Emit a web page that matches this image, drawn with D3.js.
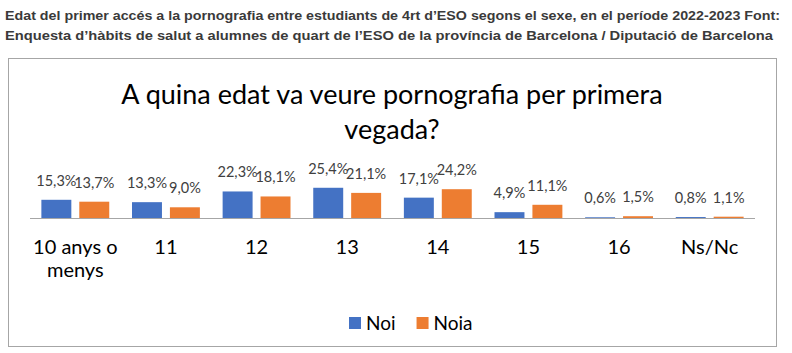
<!DOCTYPE html>
<html>
<head>
<meta charset="utf-8">
<script src="https://cdn.jsdelivr.net/npm/d3@7"></script>
<style>
  body { margin: 0; background: #fff; }
  svg { display: block; }
</style>
</head>
<body>
<div class="chart_area"></div>
<script>
var categories = ["10 anys o menys", "11", "12", "13", "14", "15", "16", "Ns/Nc"];
var seriesNames = ["Noi", "Noia"];
var noiValues = [15.3, 13.3, 22.3, 25.4, 17.1, 4.9, 0.6, 0.8];
var noiaValues = [13.7, 9.0, 18.1, 21.1, 24.2, 11.1, 1.5, 1.1];
var headerLines = [
  "Edat del primer accés a la pornografia entre estudiants de 4rt d’ESO segons el sexe, en el període 2022-2023 Font:",
  "Enquesta d’hàbits de salut a alumnes de quart de l’ESO de la província de Barcelona / Diputació de Barcelona"
];
var titleLines = ["A quina edat va veure pornografia per primera", "vegada?"];

var colors = {Noi: "#4472C4", Noia: "#ED7D31"};

var width = 792, height = 353;
var svg = d3.select(".chart_area").append("svg")
    .attr("width", width)
    .attr("height", height);

// header above the chart frame
var header = svg.append("g");
headerLines.forEach(function(t, i) {
  var tx = header.append("text")
    .attr("x", 5)
    .attr("y", 20 + i * 20)
    .attr("font-family", "Liberation Sans, Arial, sans-serif")
    .attr("font-weight", "bold")
    .attr("font-size", 13.5)
    .attr("fill", "#3a3a3a")
    .text(t);
  var target = i == 0 ? 775 : 768;
  tx.attr("textLength", target).attr("lengthAdjust", "spacingAndGlyphs");
});

// chart frame
svg.append("rect")
  .attr("x", 8.5).attr("y", 58.5)
  .attr("width", 768).attr("height", 288)
  .attr("fill", "#fff")
  .attr("stroke", "#a6a6a6")
  .attr("stroke-width", 1);

var font = "Lato, sans-serif";

titleLines.forEach(function(t, i) {
  svg.append("text")
    .attr("x", 392)
    .attr("y", 104 + i * 35)
    .attr("text-anchor", "middle")
    .attr("font-family", font)
    .attr("font-size", 27)
    .attr("fill", "#000")
    .text(t);
});

var baseline = 218;
var x = d3.scaleBand()
  .domain(categories)
  .range([30, 755]);
var xSub = d3.scaleBand()
  .domain(seriesNames)
  .range([0, x.bandwidth()])
  .paddingInner(0.21)
  .paddingOuter(0.3);
var y = d3.scaleLinear()
  .domain([0, 30])
  .range([baseline, baseline - 35.7]);

var rows = categories.map(function(c, i) {
  return {cat: c, values: [{s: "Noi", v: noiValues[i]}, {s: "Noia", v: noiaValues[i]}]};
});

var groups = svg.selectAll(".grp")
  .data(rows)
  .enter().append("g")
  .attr("class", "grp")
  .attr("transform", function(d) { return "translate(" + x(d.cat) + ",0)"; });

groups.selectAll("rect")
  .data(function(d) { return d.values; })
  .enter().append("rect")
  .attr("x", function(d) { return xSub(d.s); })
  .attr("y", function(d) { return y(d.v); })
  .attr("width", xSub.bandwidth())
  .attr("height", function(d) { return baseline - y(d.v); })
  .attr("fill", function(d) { return colors[d.s]; });

groups.selectAll(".lbl")
  .data(function(d) { return d.values; })
  .enter().append("text")
  .attr("class", "lbl")
  .attr("x", function(d) { return xSub(d.s) + xSub.bandwidth() / 2; })
  .attr("y", function(d) { return y(d.v) - 14; })
  .attr("text-anchor", "middle")
  .attr("font-family", font)
  .attr("font-size", 14.5)
  .attr("fill", "#404040")
  .text(function(d) { return d.v.toFixed(1).replace(".", ",") + "%"; });

// axis line
var xAxis = svg.append("g")
  .attr("transform", "translate(0," + baseline + ")")
  .call(d3.axisBottom(x).tickSize(0).tickPadding(0));
xAxis.select(".domain").attr("stroke", "#a6a6a6").attr("d", "M30,0.5H755");
xAxis.selectAll(".tick text").remove();

xAxis.selectAll(".tick").each(function(d) {
  var words = d == "10 anys o menys" ? ["10 anys o", "menys"] : [d];
  var g = d3.select(this);
  words.forEach(function(w, i) {
    g.append("text")
      .attr("y", 36 + i * 23)
      .attr("text-anchor", "middle")
      .attr("font-family", font)
      .attr("font-size", 20)
      .attr("fill", "#000")
      .text(w);
  });
});

// legend
var legend = svg.append("g").attr("transform", "translate(349,317)");
var lx = 0;
seriesNames.forEach(function(s) {
  legend.append("rect")
    .attr("x", lx).attr("y", 0)
    .attr("width", 12).attr("height", 12)
    .attr("fill", colors[s]);
  var t = legend.append("text")
    .attr("x", lx + 17).attr("y", 13)
    .attr("font-family", font)
    .attr("font-size", 19)
    .attr("fill", "#000")
    .text(s);
  lx += 17 + t.node().getComputedTextLength() + 21;
});
</script>
</body>
</html>
